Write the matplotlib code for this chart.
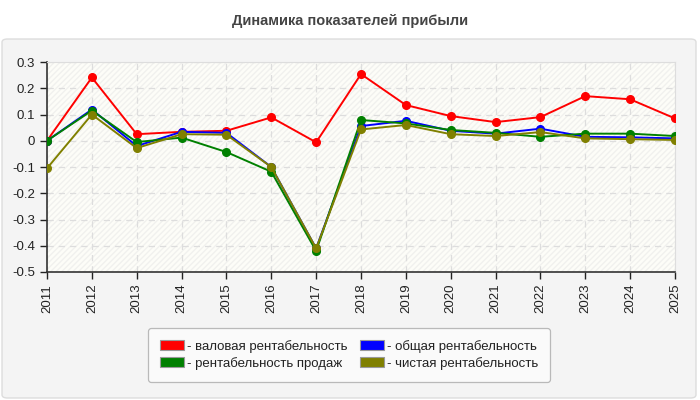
import numpy as np
import matplotlib.pyplot as plt
from matplotlib.patches import FancyBboxPatch, Rectangle
from matplotlib.ticker import FuncFormatter

plt.rcParams['font.family'] = ['Liberation Sans', 'DejaVu Sans']

years = [2011, 2012, 2013, 2014, 2015, 2016, 2017, 2018,
         2019, 2020, 2021, 2022, 2023, 2024, 2025]
gross = [0.0, 0.241, 0.025, 0.034, 0.038, 0.089, -0.006, 0.254,
         0.136, 0.094, 0.071, 0.090, 0.170, 0.158, 0.085]
total = [0.0, 0.119, -0.020, 0.034, 0.030, -0.100, -0.410, 0.056,
         0.076, 0.038, 0.027, 0.046, 0.015, 0.013, 0.009]
sales = [0.0, 0.115, -0.005, 0.012, -0.043, -0.118, -0.420, 0.079,
         0.066, 0.041, 0.030, 0.015, 0.027, 0.027, 0.018]
net = [-0.105, 0.100, -0.028, 0.025, 0.023, -0.100, -0.410, 0.043,
       0.060, 0.025, 0.018, 0.033, 0.009, 0.006, 0.003]

labels = ['- валовая рентабельность', '- общая рентабельность',
          '- рентабельность продаж', '- чистая рентабельность']
colors = ['#ff0000', '#0000ff', '#008000', '#808000']

fig = plt.figure(figsize=(7, 4), dpi=100)
fig.patch.set_facecolor('white')

# gray panel behind the chart
panel = FancyBboxPatch((2 / 700, 2 / 400), 694 / 700, 359 / 400,
                       boxstyle='round,pad=0,rounding_size=0.008',
                       transform=fig.transFigure, facecolor='#f4f4f4',
                       edgecolor='#dddddd', linewidth=1, zorder=-10)
fig.patches.append(panel)

fig.text(0.5, 0.948, 'Динамика показателей прибыли', ha='center', va='center',
         fontsize=10.5, fontweight='bold', color='#444444')

ax = fig.add_axes([47 / 700, 128 / 400, 628 / 700, 210 / 400])
ax.set_facecolor('#fdfdf8')
ax.add_patch(Rectangle((0, 0), 1, 1, transform=ax.transAxes, facecolor='none',
                       edgecolor='#f1f1ee', hatch='//////', linewidth=0, zorder=0))

series = [gross, total, sales, net]
for i in range(4):
    ax.plot(years, series[i], color=colors[i], linewidth=1.4, marker='o',
            markersize=5.5, zorder=3 + i)

ax.set_xlim(2011, 2025)
ax.set_ylim(-0.5, 0.3)
ax.set_xticks(years)
ax.set_xticklabels([str(y) for y in years], rotation=90)
ax.set_yticks(np.arange(-0.5, 0.31, 0.1))
ax.yaxis.set_major_formatter(FuncFormatter(lambda v, p: '0' if abs(v) < 1e-9 else f'{v:.1f}'))
ax.tick_params(labelsize=9.5, colors='#222222', length=5, width=1)
ax.grid(True, color='#dddddd', linestyle=(0, (5, 4)), linewidth=0.9)
ax.set_axisbelow(True)
for s in ['top', 'right']:
    ax.spines[s].set_color('#dddddd')
for s in ['left', 'bottom']:
    ax.spines[s].set_color('#333333')
    ax.spines[s].set_linewidth(1.2)

# legend fills by column, so put items in row order
handles = [Rectangle((0, 0), 1, 1, facecolor=c, edgecolor='#999999', linewidth=0.8)
           for c in colors]
idx = [0, 2, 1, 3]
leg = fig.legend([handles[i] for i in idx], [labels[i] for i in idx], ncol=2,
                 loc='center', bbox_to_anchor=(349 / 700, 1 - 355 / 400),
                 fontsize=9.5, frameon=True, fancybox=True, handlelength=1.8,
                 handleheight=0.8, handletextpad=0.2, columnspacing=1.0,
                 labelspacing=0.3, borderpad=0.9, edgecolor='#aaaaaa',
                 facecolor='#fcfcfc')
leg.get_frame().set_linewidth(0.9)
for t in leg.get_texts():
    t.set_color('#222222')

fig.savefig('out.png', dpi=100, facecolor=fig.get_facecolor())
